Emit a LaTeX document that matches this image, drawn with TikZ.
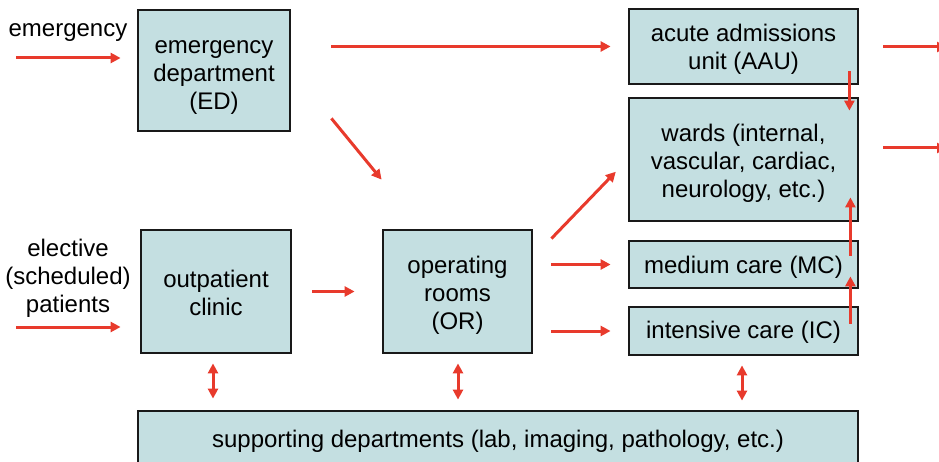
\documentclass[tikz,border=0pt]{standalone}
\usepackage{fontspec}
\setmainfont{Liberation Sans}
\usetikzlibrary{arrows.meta,calc}
\definecolor{boxfill}{RGB}{196,223,225}
\definecolor{flowred}{RGB}{232,58,44}
\definecolor{boxline}{RGB}{25,25,25}
\tikzset{
  txt/.style={align=center, inner sep=0pt, font=\fontsize{24}{28}\selectfont},
  unit/.style={draw=boxline, line width=2.8pt, fill=boxfill, inner sep=0pt},
  tip/.tip={Triangle[length=10pt,width=10pt]},
  flow/.style={draw=flowred, line width=3pt, -tip},
  twoway/.style={draw=flowred, line width=3pt, tip-tip}
}
\begin{document}
\begin{tikzpicture}[x=1pt,y=-1pt]
\useasboundingbox (0,0) rectangle (939,462);

% department boxes
\node[unit, minimum width=152pt, minimum height=121pt] (ED) at (214,70.5) {};
\node[unit, minimum width=150pt, minimum height=123pt] (OPC) at (216,291.5) {};
\node[unit, minimum width=149pt, minimum height=123pt] (OR) at (457.5,291.5) {};
\node[unit, minimum width=229pt, minimum height=75pt] (AAU) at (743.5,46.5) {};
\node[unit, minimum width=229pt, minimum height=123pt] (W) at (743.5,159.5) {};
\node[unit, minimum width=229pt, minimum height=47pt] (MC) at (743.5,264.5) {};
\node[unit, minimum width=229pt, minimum height=48pt] (IC) at (743.5,331) {};
\node[unit, minimum width=720pt, minimum height=56pt] (SD) at (498,439) {};

% department names, set a little below the box centres
\node[txt] (EDt)  at ([yshift=-7pt]ED.center)  {emergency\\department\\(ED)};
\node[txt] (OPCt) at ([yshift=-1.5pt]OPC.center) {outpatient\\clinic};
\node[txt] (ORt)  at ([yshift=-4pt]OR.center)  {operating\\rooms\\(OR)};
\node[txt] (AAUt) at ([yshift=-3pt]AAU.center) {acute admissions\\unit (AAU)};
\node[txt] (Wt)   at ([yshift=-3.5pt]W.center) {wards (internal,\\vascular, cardiac,\\neurology, etc.)};
\node[txt] (MCt)  at ([yshift=-3pt]MC.center)  {medium care (MC)};
\node[txt] (ICt)  at ([yshift=-1.5pt]IC.center) {intensive care (IC)};
\node[txt] (SDt)  at ([yshift=-2pt]SD.center)  {supporting departments (lab, imaging, pathology, etc.)};

% patient inflow labels
\node[txt] (em) at (68,33) {emergency};
\node[txt] (el) at (68,278) {elective\\(scheduled)\\patients};

% free ends of the arrows
\coordinate (emIn) at (16,58);
\coordinate (elIn) at (16,327);
\coordinate (out1) at (947,47);
\coordinate (out2) at (947,148);

% inflow
\draw[flow, shorten >=16pt] (emIn) -- (emIn -| ED.west);
\draw[flow, shorten >=19pt] (elIn) -- (elIn -| OPC.west);

% patient flows
\draw[flow, shorten <=40pt, shorten >=17pt] (ED.east |- AAU.west) -- (AAU.west);
\draw[flow] ($(ED.south east)+(40,-14)$) -- ($(OR.north west)+(0,-49)$);
\draw[flow, shorten <=20pt, shorten >=27pt] (OPC.east) -- (OR.west);
\draw[flow, shorten >=17pt] ($(OR.north east)+(18,10)$) -- (W.west);
\draw[flow, shorten <=18pt, shorten >=17pt] (OR.east |- MC.west) -- (MC.west);
\draw[flow, shorten <=18pt, shorten >=17pt] (OR.east |- IC.west) -- (IC.west);

% transfers between units
\draw[flow] ($(AAU.south east)+(-10,-14)$) -- ($(W.north east)+(-10,14)$);
\draw[flow] ($(IC.north east)+(-9,18)$) -- ($(MC.south east)+(-9,-13)$);
\draw[flow] ($(MC.north east)+(-9,16)$) -- ($(W.south east)+(-9,-25)$);

% outflow
\draw[flow, shorten <=24pt] (AAU.east |- out1) -- (out1);
\draw[flow, shorten <=24pt] (W.east |- out2) -- (out2);

% links with supporting departments
\coordinate (s1) at ($(OPC.south)+(-3,9)$);
\coordinate (s2) at ($(OR.south)+(0.5,9)$);
\coordinate (s3) at ($(IC.south)+(-1.5,9)$);
\draw[twoway, shorten >=11pt] (s1) -- (s1 |- SD.north);
\draw[twoway, shorten >=10pt] (s2) -- (s2 |- SD.north);
\draw[twoway, shorten >=9pt] (s3) -- (s3 |- SD.north);
\end{tikzpicture}
\end{document}
